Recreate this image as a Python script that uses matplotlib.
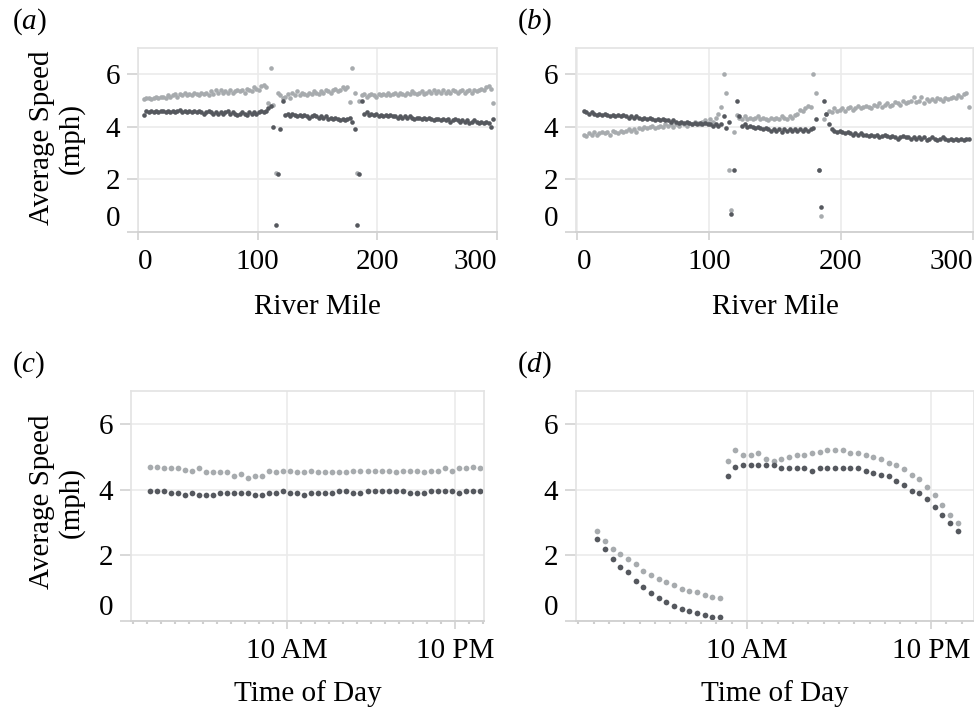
import numpy as np
import matplotlib
matplotlib.use("Agg")
import matplotlib.pyplot as plt

plt.rcParams['font.family'] = 'Liberation Serif'
plt.rcParams['mathtext.fontset'] = 'custom'
plt.rcParams['mathtext.it'] = 'Liberation Serif:italic'
plt.rcParams['mathtext.rm'] = 'Liberation Serif'

# river miles (every 2 miles)
miles = np.arange(5, 298, 2)

# (a) upstream / downstream speed by river mile
light_a = [5.05, 5.1, 5.1, 5.05, 5.1, 5.15, 5.1, 5.15,
           5.15, 5.1, 5.2, 5.15, 5.2, 5.25, 5.15, 5.25,
           5.2, 5.3, 5.2, 5.25, 5.2, 5.3, 5.25, 5.2,
           5.3, 5.25, 5.3, 5.2, 5.35, 5.25, 5.4, 5.3,
           5.4, 5.3, 5.35, 5.3, 5.4, 5.3, 5.35, 5.4,
           5.35, 5.4, 5.3, 5.45, 5.4, 5.35, 5.5, 5.45,
           5.4, 5.55, 5.6, 5.5,
           4.9, 6.25, 4.85, 2.25, 5.3,
           5.2, 5.1, 5.15, 5.25, 5.1, 5.3, 5.2,
           5.35, 5.2, 5.3, 5.25, 5.2, 5.3, 5.25, 5.35,
           5.3, 5.25, 5.35, 5.3, 5.4, 5.35, 5.3, 5.4,
           5.45, 5.35, 5.4, 5.5, 5.45, 5.5, 4.95,
           6.25, 5.3, 2.25, 5.0,
           5.2, 5.25, 5.15, 5.2, 5.25, 5.2, 5.15, 5.25,
           5.2, 5.25, 5.2, 5.3, 5.2, 5.25, 5.3, 5.2,
           5.3, 5.25, 5.2, 5.3, 5.25, 5.35, 5.3, 5.25,
           5.3, 5.35, 5.25, 5.3, 5.35, 5.3, 5.4, 5.3,
           5.35, 5.3, 5.4, 5.3, 5.35, 5.3, 5.4, 5.35,
           5.3, 5.35, 5.4, 5.3, 5.35, 5.4, 5.3, 5.4,
           5.35, 5.4, 5.45, 5.4, 5.5, 5.55, 5.45, 4.9]
dark_a = [4.45, 4.6, 4.55, 4.6, 4.55, 4.6, 4.55, 4.6,
          4.6, 4.55, 4.6, 4.55, 4.6, 4.55, 4.6, 4.65,
          4.55, 4.6, 4.55, 4.6, 4.55, 4.6, 4.55, 4.6,
          4.55, 4.5, 4.55, 4.6, 4.55, 4.5, 4.55, 4.5,
          4.55, 4.5, 4.55, 4.6, 4.5, 4.55, 4.5, 4.45,
          4.5, 4.55, 4.5, 4.45, 4.55, 4.5, 4.55, 4.5,
          4.55, 4.6, 4.55, 4.6,
          4.7, 4.8, 4.0, 0.25, 2.2, 3.9,
          5.0, 4.45, 4.5, 4.4, 4.5, 4.45,
          4.4, 4.45, 4.4, 4.45, 4.4, 4.35, 4.4, 4.45,
          4.4, 4.35, 4.4, 4.35, 4.4, 4.3, 4.35, 4.3,
          4.35, 4.3, 4.25, 4.3, 4.25, 4.3, 4.35,
          4.2, 3.9, 0.25, 2.2, 5.0,
          4.5, 4.55, 4.45, 4.5, 4.45, 4.5, 4.4,
          4.45, 4.4, 4.45, 4.4, 4.45, 4.4, 4.4, 4.35,
          4.4, 4.35, 4.4, 4.35, 4.4, 4.35, 4.3, 4.35,
          4.35, 4.3, 4.35, 4.3, 4.35, 4.3, 4.25, 4.3,
          4.3, 4.25, 4.3, 4.25, 4.3, 4.2, 4.25, 4.3,
          4.25, 4.2, 4.25, 4.2, 4.25, 4.15, 4.2, 4.25,
          4.2, 4.15, 4.2, 4.15, 4.2, 4.15, 4.0, 4.3]

# (b)
light_b = [3.7, 3.65, 3.75, 3.7, 3.8, 3.7, 3.75, 3.8,
           3.75, 3.8, 3.7, 3.85, 3.8, 3.75, 3.85, 3.8,
           3.85, 3.9, 3.85, 3.9, 3.8, 3.95, 3.9, 4.0,
           3.95, 4.0, 4.05, 3.95, 4.0, 4.05, 4.0, 4.1,
           4.05, 4.1, 4.0, 4.1, 4.05, 4.15, 4.1, 4.05,
           4.15, 4.1, 4.2, 4.15, 4.1, 4.2, 4.25, 4.15,
           4.3, 4.2, 4.35, 4.5,
           4.75, 6.0, 5.3, 2.35, 0.85, 3.8,
           4.45, 4.35, 4.3, 4.4, 4.3, 4.35,
           4.3, 4.35, 4.4, 4.3, 4.35, 4.3, 4.25, 4.35,
           4.3, 4.35, 4.3, 4.4, 4.35, 4.3, 4.4, 4.35,
           4.45, 4.5, 4.65, 4.6, 4.7, 4.8, 4.75,
           6.0, 5.3, 2.35, 0.6, 4.3,
           4.5, 4.6, 4.55, 4.7, 4.6, 4.65, 4.7,
           4.6, 4.7, 4.75, 4.65, 4.7, 4.8, 4.7, 4.75,
           4.8, 4.75, 4.7, 4.85, 4.8, 4.9, 4.75, 4.85,
           4.9, 4.8, 4.85, 4.95, 4.9, 4.85, 5.0, 4.9,
           4.95, 5.0, 5.15, 4.95, 5.0, 5.15, 4.9, 5.05,
           5.0, 5.05, 5.0, 5.1, 5.05, 5.0, 5.1, 5.05,
           5.1, 5.15, 5.1, 5.2, 5.15, 5.25, 5.3, 4.75]
dark_b = [4.6, 4.55, 4.5, 4.55, 4.5, 4.45, 4.5, 4.45,
          4.5, 4.45, 4.4, 4.45, 4.4, 4.45, 4.4, 4.45,
          4.4, 4.35, 4.4, 4.35, 4.4, 4.35, 4.3, 4.35,
          4.3, 4.35, 4.3, 4.25, 4.3, 4.25, 4.3, 4.25,
          4.25, 4.2, 4.25, 4.2, 4.15, 4.2, 4.15, 4.2,
          4.15, 4.1, 4.15, 4.1, 4.15, 4.1, 4.15, 4.1,
          4.1, 4.05, 4.1, 4.05,
          4.1, 4.4, 3.95, 4.2, 0.7, 2.35, 5.0, 4.4,
          4.05, 4.1, 4.0, 4.05,
          4.0, 3.95, 4.0, 3.95, 3.9, 3.95, 3.9, 3.85,
          3.9, 3.85, 3.9, 3.8, 3.9, 3.85, 3.9, 3.85,
          3.9, 3.85, 3.9, 3.85, 3.9, 3.85, 3.9,
          3.95, 4.3, 2.35, 0.95, 5.0, 4.5, 4.1,
          3.9, 3.85, 3.8, 3.85, 3.8,
          3.75, 3.8, 3.75, 3.7, 3.75, 3.7, 3.75, 3.7,
          3.7, 3.65, 3.7, 3.65, 3.7, 3.6, 3.65, 3.7,
          3.65, 3.6, 3.65, 3.6, 3.55, 3.6, 3.65, 3.6,
          3.6, 3.55, 3.6, 3.55, 3.6, 3.55, 3.6, 3.5,
          3.55, 3.6, 3.55, 3.5, 3.55, 3.6, 3.55, 3.5,
          3.55, 3.5, 3.55, 3.5, 3.55, 3.5, 3.55, 3.55]

# half-hour slots through the day (hours)
hours = np.arange(0.25, 24, 0.5)

light_c = [4.70, 4.70, 4.65, 4.65, 4.65, 4.60, 4.58, 4.65, 4.53, 4.53, 4.53, 4.53,
           4.40, 4.46, 4.35, 4.40, 4.40, 4.58, 4.53, 4.58, 4.58, 4.53, 4.53, 4.58,
           4.53, 4.53, 4.53, 4.53, 4.53, 4.58, 4.58, 4.58, 4.58, 4.58, 4.58, 4.53,
           4.58, 4.58, 4.58, 4.53, 4.58, 4.58, 4.65, 4.58, 4.65, 4.65, 4.70, 4.65]
dark_c = [3.97, 3.97, 3.97, 3.90, 3.90, 3.85, 3.90, 3.85, 3.85, 3.85, 3.90, 3.90,
          3.90, 3.90, 3.90, 3.85, 3.85, 3.90, 3.90, 3.97, 3.90, 3.90, 3.85, 3.90,
          3.90, 3.90, 3.90, 3.97, 3.97, 3.90, 3.90, 3.97, 3.97, 3.97, 3.97, 3.97,
          3.97, 3.90, 3.90, 3.90, 3.97, 3.97, 3.97, 3.97, 3.90, 3.97, 3.97, 3.97]

light_d = [2.75, 2.45, 2.19, 2.04, 1.89, 1.72, 1.53, 1.40, 1.28, 1.18, 1.11, 0.97,
           0.92, 0.87, 0.80, 0.74, 0.69,
           4.88, 5.19, 5.06, 5.06, 5.11, 4.93, 4.88, 4.93, 4.98, 5.06, 5.06, 5.11,
           5.14, 5.19, 5.19, 5.19, 5.11, 5.11, 5.04, 4.98, 4.93, 4.80, 4.75, 4.63,
           4.45, 4.32, 4.09, 3.85, 3.54, 3.24, 2.98]
dark_d = [2.50, 2.19, 1.89, 1.65, 1.48, 1.23, 1.05, 0.85, 0.69, 0.57, 0.45, 0.37,
          0.29, 0.23, 0.18, 0.13, 0.13,
          4.40, 4.70, 4.75, 4.75, 4.75, 4.75, 4.75, 4.65, 4.65, 4.65, 4.65, 4.58,
          4.65, 4.65, 4.65, 4.65, 4.65, 4.65, 4.58, 4.51, 4.45, 4.40, 4.27, 4.14,
          3.97, 3.90, 3.72, 3.48, 3.24, 2.98, 2.75]

LIGHT = '#a7abae'
DARK = '#55585e'
GRID = '#ebebeb'
FRAME = '#e3e3e3'
AXIS = '#d2d2d2'
FS = 21

W, H = 974, 714
fig = plt.figure(figsize=(W / 100, H / 100), dpi=100)


def box(l, r, t, b):
    return [l / W, 1 - b / H, (r - l) / W, (b - t) / H]


def style(ax):
    ax.set_ylim(0, 7)
    ax.set_yticks([0, 2, 4, 6])
    ax.grid(True, color=GRID, lw=1.2)
    ax.set_axisbelow(True)
    for s in ['top', 'left', 'right']:
        ax.spines[s].set_color(FRAME)
        ax.spines[s].set_linewidth(1.2)
    ax.spines['bottom'].set_color(AXIS)
    ax.spines['bottom'].set_linewidth(1.4)
    ax.tick_params(axis='y', length=8, width=1.2, color=AXIS, labelsize=FS, pad=5)
    ax.tick_params(axis='x', length=6, width=1.2, color=AXIS, labelsize=FS, pad=6)
    ax.tick_params(axis='x', which='minor', length=2.5, width=1.5, color='#cfcfcf')
    lab = ax.get_yticklabels()
    lab[0].set_va('bottom')


def mile_axis(ax):
    ax.set_xticks([0, 100, 200, 300])
    lab = ax.get_xticklabels()
    lab[0].set_ha('left')
    lab[-1].set_ha('right')
    ax.set_xlabel('River Mile', fontsize=FS, labelpad=14)


def time_axis(ax):
    ax.set_xticks([10, 22])
    ax.set_xticklabels(['10 AM', '10 PM'])
    ax.set_xticks([h for h in range(-1, 25) if h not in (10, 22)], minor=True)
    ax.set_xlabel('Time of Day', fontsize=FS, labelpad=12)


axa = fig.add_axes(box(138, 497, 48, 232))
axa.scatter(miles, light_a, s=11, color=LIGHT, lw=0)
axa.scatter(miles, dark_a, s=11, color=DARK, lw=0)
axa.set_xlim(0, 300)
style(axa)
mile_axis(axa)

axb = fig.add_axes(box(576, 974, 48, 232))
axb.scatter(miles, light_b, s=11, color=LIGHT, lw=0)
axb.scatter(miles, dark_b, s=11, color=DARK, lw=0)
axb.set_xlim(-0.8, 300.8)
style(axb)
mile_axis(axb)

axc = fig.add_axes(box(131, 484, 391, 621))
axc.scatter(hours, light_c, s=17, color=LIGHT, lw=0)
axc.scatter(hours, dark_c, s=17, color=DARK, lw=0)
axc.set_xlim(-1.14, 24.07)
style(axc)
time_axis(axc)

axd = fig.add_axes(box(576, 974, 391, 621))
axd.scatter(hours, light_d, s=17, color=LIGHT, lw=0)
axd.scatter(hours, dark_d, s=17, color=DARK, lw=0)
axd.set_xlim(-1.15, 24.81)
style(axd)
time_axis(axd)

for y in (138, 502):
    fig.text(57 / W, 1 - y / H, 'Average Speed\n(mph)', rotation=90, ha='center',
             va='center', multialignment='center', fontsize=FS, linespacing=1.15)

for x, y, t in [(12, 22, 'a'), (517, 22, 'b'), (12, 365, 'c'), (517, 365, 'd')]:
    fig.text(x / W, 1 - y / H, '($' + t + '$)', ha='left', va='center', fontsize=FS)

fig.savefig('out.png', dpi=100)
